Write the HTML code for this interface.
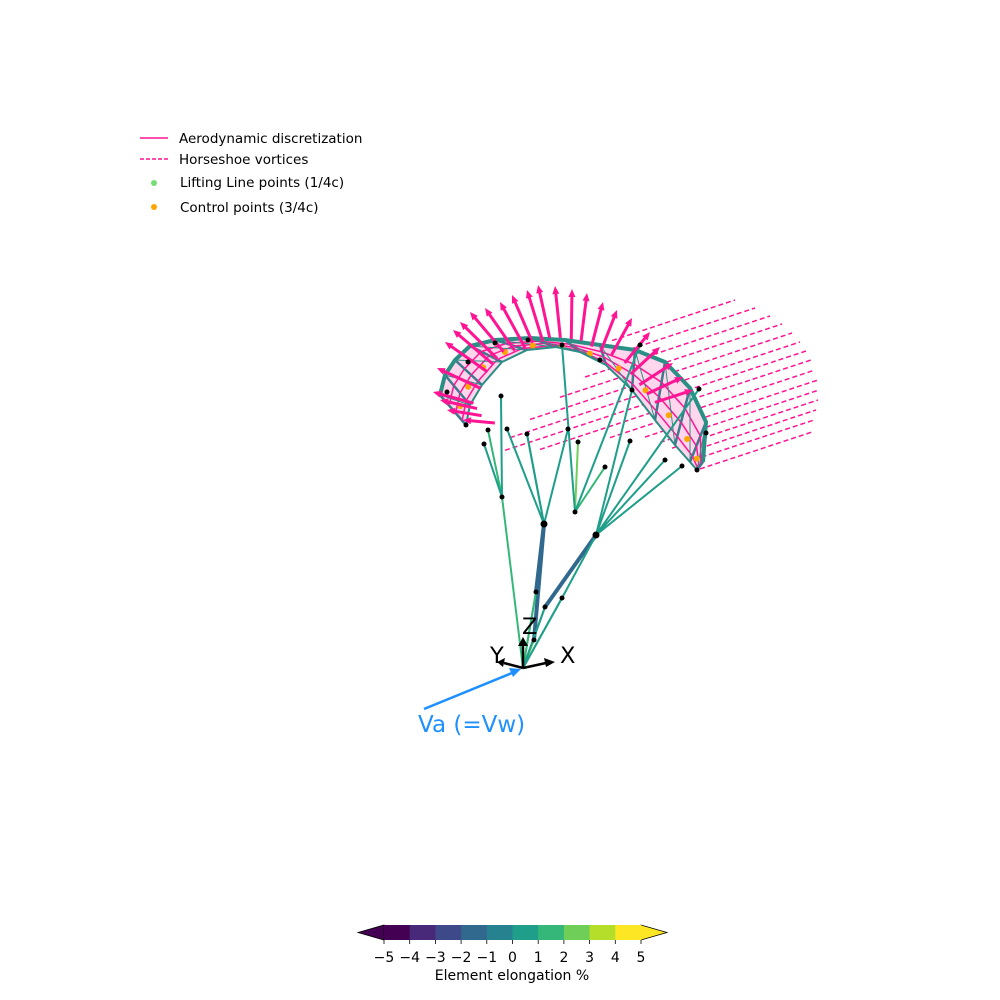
<!DOCTYPE html>
<html><head><meta charset="utf-8"><style>
body{margin:0;background:#fff;font-family:"DejaVu Sans","Liberation Sans",sans-serif}
svg{display:block}
</style></head><body>
<svg id="s" width="1000" height="1000" viewBox="0 0 1000 1000" xmlns="http://www.w3.org/2000/svg" font-family="DejaVu Sans, Liberation Sans, sans-serif">
<g id="legend">
<line x1="140" y1="138" x2="168" y2="138" stroke="#ff1493" stroke-width="1.5"/>
<text x="179" y="143" font-size="13.5">Aerodynamic discretization</text>
<line x1="140" y1="159" x2="168" y2="159" stroke="#ff1493" stroke-width="1.5" stroke-dasharray="4,2"/>
<text x="179" y="164" font-size="13.5">Horseshoe vortices</text>
<circle cx="154" cy="183" r="3" fill="#77dd77"/>
<text x="180" y="187" font-size="13.5">Lifting Line points (1/4c)</text>
<circle cx="154" cy="207" r="3" fill="#ffa500"/>
<text x="180" y="212" font-size="13.5">Control points (3/4c)</text>
</g>
<g id="wake"></g>
<g id="kite"></g>
<g id="bridle"></g>
<g id="arrows"></g>
<g id="nodes"></g>
<g>
<line x1="523" y1="668" x2="523" y2="644" stroke="#000" stroke-width="2.5"/>
<polygon points="518,646 523,637 528,646" fill="#000"/>
<line x1="523" y1="668" x2="546" y2="663" stroke="#000" stroke-width="2.5"/>
<polygon points="544,658 555,662 546,667" fill="#000"/>
<line x1="523" y1="668" x2="504" y2="663" stroke="#000" stroke-width="2.5"/>
<polygon points="505,658 497,662 503,667" fill="#000"/>
<text x="522" y="634" font-size="22.5">Z</text>
<text x="490" y="663" font-size="22.5">Y</text>
<text x="560" y="663" font-size="22.5">X</text>
</g>
<g>
<line x1="424" y1="709" x2="512" y2="673" stroke="#1e90ff" stroke-width="2.5"/>
<polygon points="509,668 521,669 513,677" fill="#1e90ff"/>
<text x="418" y="732" font-size="23" fill="#1e90ff">Va (=Vw)</text>
</g>
<g id="cbar"></g>
</svg>
<script>
const NS="http://www.w3.org/2000/svg";
function mk(p,t,a){const e=document.createElementNS(NS,t);for(const k in a)e.setAttribute(k,a[k]);p.appendChild(e);return e;}
// colorbar data
const cbTicks=[-5,-4,-3,-2,-1,0,1,2,3,4,5];
const cbColors=["#440154","#482878","#3e4989","#31688e","#26828e","#1f9e89","#35b779","#6ece58","#b5de2b","#fde725"];
// kite geometry
const leX=[440,445,455,470,495,530,565,600,635,665,690,706,703];
const leY=[395,375,360,346,340,338,340,345,350,362,388,422,462];
const teX=[466,470,482,502,527,556,580,606,632,655,675,690,697];
const teY=[425,405,385,362,350,347,352,365,390,420,445,462,470];
// wake: end points (far) and start x
const wakeEndX=[735,755,770,782,792,800,806,811,815,818,819,818,816,814,812];
const wakeEndY=[300,308,316,324,333,342,351,360,370,380,390,400,410,420,432];
const wakeStartX=[612,600,585,560,530,510,505,540,610,645,660,672,684,694,700];
// force arrow tips
const tipX=[463,447,440,433,437,445,453,460,470,485,500,512,527,538,555,572,587,603,617,632,650,660,673,683,693];
const tipY=[420,410,400,392,368,342,330,322,312,308,302,295,290,285,286,289,293,302,310,318,332,347,363,377,390];
const arrowLen=[32,35,38,42,48,52,52,52,52,52,52,52,54,54,52,50,48,46,44,42,40,40,40,40,40];
const nodeX=[502,544,575,596,536,545,562,534,523,495,528,562,600,640,468,447,466,488,501,507,527,568,578,605,630,632,665,682,699,706,697,484];
const nodeY=[497,524,512,535,592,607,598,640,668,343,340,345,360,345,362,392,425,430,396,429,434,429,442,467,441,390,460,466,389,433,470,444];
const bridleA=[0,0,0,1,1,1,1,2,2,2,3,3,3,3,4,4,5,5,6,6,7,8,8,8,8,1,3,2];
const bridleB=[17,18,31,19,20,21,7,22,23,13,24,25,26,27,1,8,3,8,3,8,8,0,4,5,6,20,28,11];
const bridleV=[1.5,0.5,0.5,0.5,0.3,0.2,-1.5,2,1.5,0.5,0.3,0.4,0.3,0.5,-1.5,1,-1.5,1.5,0.3,1.6,2.5,1.5,1,0.6,0.8,0.5,0.3,0.4];
const cx=v=>384+(v+5)*25.7;
function col(v){let i=Math.floor(v+5);i=Math.max(0,Math.min(9,i));return cbColors[i];}

const wake=document.getElementById('wake');
for(let i=0;i<wakeEndX.length;i++){
 const sx=wakeStartX[i],sy=wakeEndY[i]+0.33*(wakeEndX[i]-sx);
 const l=mk(wake,'line',{x1:sx,y1:sy,x2:wakeEndX[i],y2:wakeEndY[i],stroke:'#ff1493','stroke-width':1.5,'stroke-dasharray':'5,3'});
 
 
}
const kite=document.getElementById('kite');
let d='M'+leX.map((x,i)=>x+','+leY[i]).join(' L')+' L'+teX.slice().reverse().map((x,j)=>x+','+teY[teX.length-1-j]).join(' L')+' Z';
const poly=mk(kite,'path',{d:d,fill:'#ffd6ec',stroke:'#ff1493','stroke-width':1.5});


for(let i=0;i<leX.length;i++){
 const c=mk(kite,'line',{x1:leX[i],y1:leY[i],x2:teX[i],y2:teY[i],stroke:'#3d7a8e','stroke-width':2.5});
 
 
 if(i<leX.length-1){
 for(const f of [0.35,0.6,0.85]){
  const p=mk(kite,'line',{x1:leX[i]+(teX[i]-leX[i])*f,y1:leY[i]+(teY[i]-leY[i])*f,x2:leX[i+1]+(teX[i+1]-leX[i+1])*f,y2:leY[i+1]+(teY[i+1]-leY[i+1])*f,stroke:'#ff1493','stroke-width':1.5});
  
  
 }
 const q=mk(kite,'line',{x1:leX[i],y1:leY[i],x2:teX[i+1],y2:teY[i+1],stroke:'#2a8f85','stroke-width':1});
 
 
 const o=mk(kite,'circle',{cx:(leX[i]*0.3+teX[i]*0.7+leX[i+1]*0.3+teX[i+1]*0.7)/2,cy:(leY[i]*0.3+teY[i]*0.7+leY[i+1]*0.3+teY[i+1]*0.7)/2,r:3,fill:'#ffa500'});
 
 
 }
}
const le=mk(kite,'polyline',{points:leX.map((x,i)=>x+','+leY[i]).join(' '),fill:'none',stroke:'#2a8f85','stroke-width':4});


const te=mk(kite,'polyline',{points:teX.map((x,i)=>x+','+teY[i]).join(' '),fill:'none',stroke:'#2a8f85','stroke-width':2});



const br=document.getElementById('bridle');
for(let i=0;i<bridleA.length;i++){
 const a=bridleA[i],b=bridleB[i];
 const l=mk(br,'line',{x1:nodeX[a],y1:nodeY[a],x2:nodeX[b],y2:nodeY[b],stroke:col(bridleV[i]),'stroke-width':(bridleV[i]<0?4:2)});
 
 
}
const ar=document.getElementById('arrows');
for(let i=0;i<tipX.length;i++){
 let dx=tipX[i]-570,dy=(tipY[i]-430);const n=Math.hypot(dx,dy);dx/=n;dy/=n;
 const L=arrowLen[i];
 const l=mk(ar,'line',{x1:tipX[i]-dx*L,y1:tipY[i]-dy*L,x2:tipX[i]-dx*5,y2:tipY[i]-dy*5,stroke:'#ff1493','stroke-width':3});
 
 
 const px=-dy,py=dx;
 const h=mk(ar,'polygon',{points:`${tipX[i]},${tipY[i]} ${tipX[i]-dx*8+px*3.5},${tipY[i]-dy*8+py*3.5} ${tipX[i]-dx*8-px*3.5},${tipY[i]-dy*8-py*3.5}`,fill:'#ff1493'});
 
 
}
const nd=document.getElementById('nodes');
for(let i=0;i<nodeX.length;i++){
 if(i===8)continue;
 const c=mk(nd,'circle',{cx:nodeX[i],cy:nodeY[i],r:(i===1||i===3)?3.5:2.5,fill:'#000'});
 
 
}
const cb=document.getElementById('cbar');
const l0=mk(cb,'polygon',{points:'358,932.5 '+cx(-5)+',925 '+cx(-5)+',940',fill:cbColors[0],stroke:'#000','stroke-width':0.8});


const l1=mk(cb,'polygon',{points:'667,932.5 '+cx(5)+',925 '+cx(5)+',940',fill:cbColors[9],stroke:'#000','stroke-width':0.8});


for(let i=0;i<cbColors.length;i++){
 const r=mk(cb,'rect',{x:cx(cbTicks[i]),y:925,width:cx(cbTicks[i+1])-cx(cbTicks[i])+0.5,height:15,fill:cbColors[i]});
 
 
}
for(const t of cbTicks){
 const l=mk(cb,'line',{x1:cx(t),y1:940,x2:cx(t),y2:944,stroke:'#000','stroke-width':0.8});
 
 
 const tx=mk(cb,'text',{x:cx(t),y:962,'font-size':14,'text-anchor':'middle'});
 tx.textContent=(t<0?'\u2212'+(-t):String(t));
 
 
}
const tt=mk(cb,'text',{x:512,y:980,'font-size':14,'text-anchor':'middle'});
tt.textContent='Element elongation %';


</script>
</body></html>
